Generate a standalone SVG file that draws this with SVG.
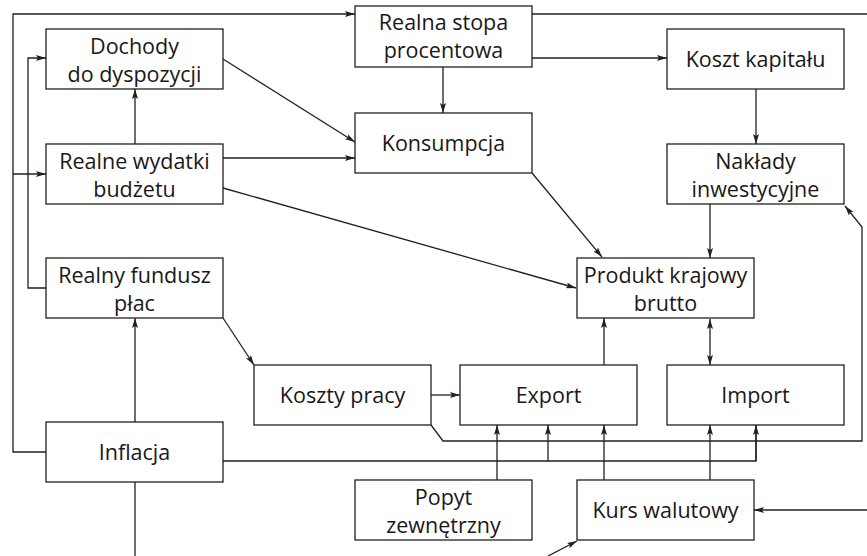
<svg xmlns="http://www.w3.org/2000/svg" width="867" height="556" viewBox="0 0 867 556">
  <defs>
    <style>
      .box { fill: #ffffff; stroke: #231f20; stroke-width: 1.3; }
      .lbl { font-family: "Open Sans", "Noto Sans", "Liberation Sans", sans-serif; font-size: 21.5px; fill: #1a1718; text-anchor: middle; }
      .ln { fill: none; stroke: #231f20; stroke-width: 1.3; }
      .ar { marker-end: url(#arr); }
      .ar2 { marker-start: url(#arr); marker-end: url(#arr); }
    </style>
    <marker id="arr" viewBox="0 0 10 6" refX="10" refY="3" markerWidth="10" markerHeight="6" markerUnits="userSpaceOnUse" orient="auto-start-reverse">
      <path d="M0,0 L10,3 L0,6 L2,3 z" fill="#231f20"/>
    </marker>
  </defs>

  <rect width="867" height="556" fill="#ffffff"/>

  <!-- connectors -->
  <g id="connectors">
    <!-- inflation feedback along the outer left edge -->
    <polyline class="ln ar" points="46,452 13,452 13,14 355,14"/>
    <line class="ln ar" x1="13" y1="174" x2="46" y2="174"/>
    <!-- real wage fund to disposable income -->
    <polyline class="ln ar" points="46,288 28,288 28,58 46,58"/>
    <!-- real interest rate outgoing -->
    <line class="ln" x1="532" y1="14" x2="867" y2="14"/>
    <line class="ln ar" x1="532" y1="58" x2="667" y2="58"/>
    <line class="ln ar" x1="443" y1="67" x2="443" y2="113"/>
    <!-- budget spending -->
    <line class="ln ar" x1="135" y1="144" x2="135" y2="89"/>
    <line class="ln ar" x1="223" y1="158" x2="355" y2="158"/>
    <line class="ln ar" x1="223" y1="188" x2="576" y2="288"/>
    <!-- disposable income to consumption -->
    <line class="ln ar" x1="223" y1="59" x2="355" y2="142"/>
    <!-- capital cost chain -->
    <line class="ln ar" x1="756" y1="89" x2="756" y2="144"/>
    <line class="ln ar" x1="710" y1="204" x2="710" y2="258"/>
    <!-- consumption to GDP -->
    <line class="ln ar" x1="532" y1="173" x2="602" y2="257"/>
    <!-- GDP with trade -->
    <line class="ln ar2" x1="710" y1="319" x2="710" y2="365"/>
    <line class="ln ar" x1="604" y1="365" x2="604" y2="318"/>
    <!-- inflation to wage fund -->
    <line class="ln ar" x1="135" y1="422" x2="135" y2="318"/>
    <line class="ln" x1="135" y1="482" x2="135" y2="556"/>
    <!-- wage fund to labour costs -->
    <line class="ln ar" x1="223" y1="318" x2="254" y2="365"/>
    <!-- labour costs -->
    <line class="ln ar" x1="431" y1="395" x2="460" y2="395"/>
    <polyline class="ln ar" points="431,425 443,441 862,441 862,227 845,206"/>
    <!-- inflation to export and import -->
    <polyline class="ln" points="223,461 756,461 756,425"/>
    <line class="ln ar" x1="756" y1="461" x2="756" y2="425"/>
    <line class="ln ar" x1="548" y1="461" x2="548" y2="425"/>
    <!-- external demand -->
    <line class="ln ar" x1="497" y1="480" x2="497" y2="425"/>
    <!-- exchange rate -->
    <line class="ln ar" x1="604" y1="480" x2="604" y2="425"/>
    <line class="ln ar" x1="710" y1="480" x2="710" y2="425"/>
    <line class="ln ar" x1="867" y1="510" x2="754" y2="510"/>
    <line class="ln ar" x1="548" y1="556" x2="577" y2="541"/>
  </g>

  <!-- nodes -->
  <g id="dochody">
    <rect class="box" x="46" y="29" width="177" height="60"/>
    <text class="lbl" x="134.5" y="54">Dochody</text>
    <text class="lbl" x="134.5" y="82">do dyspozycji</text>
  </g>
  <g id="wydatki">
    <rect class="box" x="46" y="144" width="177" height="60"/>
    <text class="lbl" x="134.5" y="169">Realne wydatki</text>
    <text class="lbl" x="134.5" y="197">budżetu</text>
  </g>
  <g id="fundusz">
    <rect class="box" x="46" y="258" width="177" height="60"/>
    <text class="lbl" x="134.5" y="283">Realny fundusz</text>
    <text class="lbl" x="134.5" y="311">płac</text>
  </g>
  <g id="inflacja">
    <rect class="box" x="46" y="422" width="177" height="60"/>
    <text class="lbl" x="134.5" y="460">Inflacja</text>
  </g>
  <g id="stopa">
    <rect class="box" x="355" y="6" width="177" height="61"/>
    <text class="lbl" x="443.5" y="30">Realna stopa</text>
    <text class="lbl" x="443.5" y="58">procentowa</text>
  </g>
  <g id="konsumpcja">
    <rect class="box" x="355" y="113" width="177" height="60"/>
    <text class="lbl" x="443.5" y="151">Konsumpcja</text>
  </g>
  <g id="koszt-kapitalu">
    <rect class="box" x="667" y="29" width="177" height="60"/>
    <text class="lbl" x="755.5" y="67">Koszt kapitału</text>
  </g>
  <g id="naklady">
    <rect class="box" x="667" y="144" width="177" height="60"/>
    <text class="lbl" x="755.5" y="169">Nakłady</text>
    <text class="lbl" x="755.5" y="197">inwestycyjne</text>
  </g>
  <g id="pkb">
    <rect class="box" x="577" y="258" width="177" height="60"/>
    <text class="lbl" x="665.5" y="283">Produkt krajowy</text>
    <text class="lbl" x="665.5" y="311">brutto</text>
  </g>
  <g id="koszty-pracy">
    <rect class="box" x="254" y="365" width="177" height="60"/>
    <text class="lbl" x="342.5" y="403">Koszty pracy</text>
  </g>
  <g id="export">
    <rect class="box" x="460" y="365" width="177" height="60"/>
    <text class="lbl" x="548.5" y="403">Export</text>
  </g>
  <g id="import">
    <rect class="box" x="667" y="365" width="177" height="60"/>
    <text class="lbl" x="755.5" y="403">Import</text>
  </g>
  <g id="popyt">
    <rect class="box" x="355" y="480" width="177" height="60"/>
    <text class="lbl" x="443.5" y="505">Popyt</text>
    <text class="lbl" x="443.5" y="533">zewnętrzny</text>
  </g>
  <g id="kurs">
    <rect class="box" x="577" y="480" width="177" height="60"/>
    <text class="lbl" x="665.5" y="518">Kurs walutowy</text>
  </g>
</svg>
